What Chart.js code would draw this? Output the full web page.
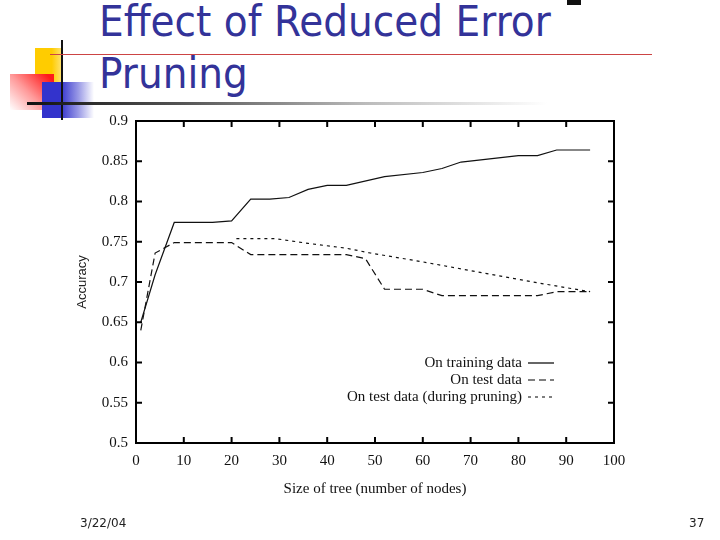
<!DOCTYPE html>
<html><head><meta charset="utf-8">
<script src="https://cdn.jsdelivr.net/npm/chart.js@4/dist/chart.umd.min.js"></script>
<style>
html,body{margin:0;padding:0;background:#fff;}
#slide{position:relative;width:720px;height:540px;overflow:hidden;background:#fff;}
.abs{position:absolute;}
#title{position:absolute;left:99px;top:-4px;font-family:"DejaVu Sans";font-size:42px;line-height:52px;color:#333399;white-space:nowrap;transform-origin:0 0;transform:scaleX(0.93);}
#c{position:absolute;left:0;top:0;}
.foot{position:absolute;top:516px;font-family:"DejaVu Sans";font-size:12px;color:#222;}
</style></head>
<body><div id="slide">
<div class="abs" style="left:35px;top:48px;width:28px;height:34px;background:linear-gradient(to right,#ffcc00 60%,#ffe680);"></div>
<div class="abs" style="left:10px;top:74px;width:44px;height:36px;background:linear-gradient(225deg,#ff1a1a 10%,#ff9a9a 55%,#fff 100%);"></div>
<div class="abs" style="left:42px;top:82px;width:52px;height:36px;background:linear-gradient(to right,#3333cc 35%,#9a9ae6 70%,#fff 100%);"></div>
<div class="abs" style="left:61px;top:40px;width:2px;height:80px;background:#111;"></div>
<div class="abs" style="left:27px;top:102px;width:520px;height:3px;background:linear-gradient(to right,#111 0%,#555 30%,#bbb 65%,#fff 100%);"></div>
<div class="abs" style="left:50px;top:54px;width:602px;height:1px;background:#cc4444;"></div>
<div class="abs" style="left:567px;top:0px;width:14px;height:5px;background:#111;"></div>
<div id="title">Effect of Reduced Error<br>Pruning</div>
<canvas id="c" width="720" height="540"></canvas>
<div class="foot" style="left:80px;">3/22/04</div>
<div class="foot" style="left:689px;">37</div>
</div>
<script>
const trainX = [1, 4, 8, 16, 20, 24, 28, 32, 36, 40, 44, 52, 60, 64, 68, 80, 84, 88, 95];
const trainY = [0.65, 0.709, 0.774, 0.774, 0.776, 0.803, 0.803, 0.805, 0.815, 0.820, 0.820, 0.831, 0.836, 0.841, 0.849, 0.857, 0.857, 0.864, 0.864];
const testX = [1, 4, 8, 20, 24, 44, 48, 52, 60, 64, 84, 88, 95];
const testY = [0.64, 0.736, 0.749, 0.749, 0.734, 0.734, 0.729, 0.691, 0.691, 0.683, 0.683, 0.688, 0.688];
const pruneX = [21, 29, 36, 44, 49, 60, 84, 95];
const pruneY = [0.754, 0.754, 0.748, 0.742, 0.736, 0.725, 0.699, 0.688];
const seriesLabels = ["On training data", "On test data", "On test data (during pruning)"];
const xTicks = [0, 10, 20, 30, 40, 50, 60, 70, 80, 90, 100];
const yTicks = [0.5, 0.55, 0.6, 0.65, 0.7, 0.75, 0.8, 0.85, 0.9];

const pts = (xs, ys) => xs.map((x, i) => ({x: x, y: ys[i]}));

const framePlugin = {
  id: 'frame',
  afterDraw(chart) {
    const ctx = chart.ctx, a = chart.chartArea;
    const xs = chart.scales.x, ys = chart.scales.y;
    ctx.save();
    ctx.strokeStyle = '#000';
    ctx.lineWidth = 2;
    ctx.strokeRect(a.left, a.top, a.right - a.left, a.bottom - a.top);
    ctx.beginPath();
    const tl = 6;
    xTicks.forEach(v => {
      const px = xs.getPixelForValue(v);
      ctx.moveTo(px, a.bottom); ctx.lineTo(px, a.bottom - tl);
      ctx.moveTo(px, a.top); ctx.lineTo(px, a.top + tl);
    });
    yTicks.forEach(v => {
      const py = ys.getPixelForValue(v);
      ctx.moveTo(a.left, py); ctx.lineTo(a.left + tl, py);
      ctx.moveTo(a.right, py); ctx.lineTo(a.right - tl, py);
    });
    ctx.stroke();
    // legend
    ctx.font = '15px "Liberation Serif"';
    ctx.fillStyle = '#111';
    ctx.textAlign = 'right';
    ctx.textBaseline = 'middle';
    const rowY = [363, 380, 397];
    chart.data.datasets.forEach((ds, i) => {
      ctx.fillText(ds.label, 522, rowY[i]);
      ctx.beginPath();
      ctx.lineWidth = 1.2;
      ctx.setLineDash(ds.borderDash || []);
      ctx.moveTo(528, rowY[i]); ctx.lineTo(554, rowY[i]);
      ctx.stroke();
    });
    ctx.restore();
  }
};

new Chart(document.getElementById('c'), {
  type: 'line',
  data: {
    datasets: [
      {label: seriesLabels[0], data: pts(trainX, trainY), borderColor: '#111', borderWidth: 1.2, pointRadius: 0, tension: 0},
      {label: seriesLabels[1], data: pts(testX, testY), borderColor: '#111', borderWidth: 1.2, borderDash: [7, 4], pointRadius: 0, tension: 0},
      {label: seriesLabels[2], data: pts(pruneX, pruneY), borderColor: '#111', borderWidth: 1.2, borderDash: [3, 4], pointRadius: 0, tension: 0}
    ]
  },
  options: {
    responsive: false,
    animation: false,
    layout: {padding: {left: 0, top: 121, right: 106, bottom: 0}},
    plugins: {legend: {display: false}, tooltip: {enabled: false}},
    scales: {
      x: {
        type: 'linear', min: 0, max: 100,
        afterBuildTicks: s => { s.ticks = xTicks.map(v => ({value: v})); },
        afterFit: s => { s.height = 97; },
        grid: {display: false, drawTicks: false},
        border: {display: false},
        ticks: {padding: 9, color: '#111', font: {family: 'Liberation Serif', size: 15}, maxRotation: 0, autoSkip: false},
        title: {display: true, text: 'Size of tree (number of nodes)', color: '#111', font: {family: 'Liberation Serif', size: 15}, padding: {bottom: 42}}
      },
      y: {
        type: 'linear', min: 0.5, max: 0.9,
        afterBuildTicks: s => { s.ticks = yTicks.map(v => ({value: v})); },
        afterFit: s => { s.width = 136; },
        grid: {display: false, drawTicks: false},
        border: {display: false},
        ticks: {padding: 8, color: '#111', font: {family: 'Liberation Serif', size: 15}, autoSkip: false, callback: v => String(Math.round(v * 100) / 100)},
        title: {display: true, text: 'Accuracy', color: '#222', font: {family: 'Liberation Sans', size: 13}, padding: {top: 75}}
      }
    }
  },
  plugins: [framePlugin]
});
</script>
</body></html>
